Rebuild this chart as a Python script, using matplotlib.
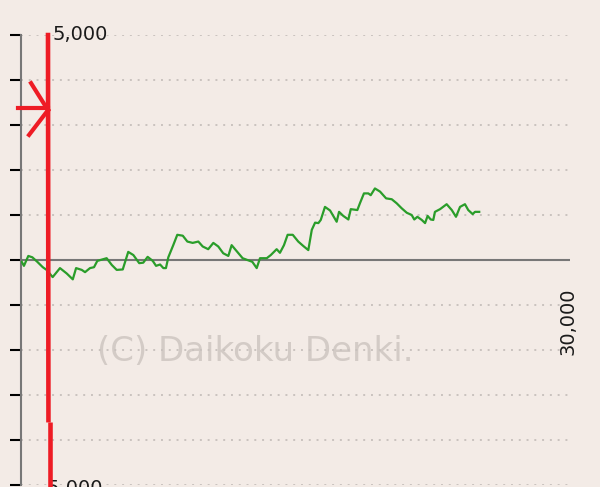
import matplotlib
matplotlib.use("Agg")
import matplotlib.pyplot as plt

# games played vs. coin difference
games = [40, 160, 400, 620, 890, 1190, 1400, 1730, 2130, 2500, 2830, 3010, 3320, 3500,
         3770, 3990, 4170, 4680, 4960, 5230, 5560, 5860, 6140, 6460, 6680, 6920, 7200,
         7380, 7600, 7780, 7920, 8050, 8320, 8540, 8840, 9090, 9380, 9690, 9930, 10230,
         10510, 10780, 11050, 11330, 11510, 11820, 12110, 12370, 12640, 12880, 13060,
         13430, 13650, 13970, 14150, 14370, 14570, 14850, 15150, 15430, 15700, 15890,
         16070, 16250, 16380, 16610, 16890, 17250, 17380, 17610, 17890, 18020, 18380,
         18520, 18740, 18980, 19110, 19340, 19620, 19950, 20260, 20530, 20800, 21080,
         21350, 21490, 21660, 21900, 22080, 22220, 22390, 22530, 22620, 22900, 23260,
         23540, 23770, 23990, 24260, 24440, 24680, 24810, 25040]
diff = [-40, -130, 90, 60, -40, -160, -220, -380, -180, -300, -430, -180, -220, -270,
        -180, -160, -20, 40, -110, -220, -210, 180, 110, -70, -60, 70, -20,
        -130, -100, -180, -180, 60, 330, 560, 540, 410, 380, 410, 300, 240,
        380, 300, 150, 90, 330, 180, 40, 0, -40, -180, 40,
        40, 110, 240, 160, 330, 560, 560, 410, 310, 220, 670,
        830, 820, 890, 1180, 1100, 850, 1070, 980, 900, 1130, 1110,
        1260, 1480, 1480, 1440, 1590, 1520, 1370, 1350, 1260, 1150, 1050,
        1000, 900, 960, 890, 820, 980, 900, 890, 1070, 1130, 1240,
        1110, 960, 1180, 1240, 1110, 1020, 1070, 1070]
y_ticks = list(range(-5000, 5001, 1000))

bg = "#f3ebe6"
fig = plt.figure(figsize=(6, 4.87), dpi=100, facecolor=bg)
ax = fig.add_axes([21/600, 2/487, 549/600, 450/487])
ax.set_facecolor(bg)
ax.set_xlim(0, 30000)
ax.set_ylim(-5000, 5000)

for v in y_ticks:
    if v == 0:
        ax.axhline(0, color="#777777", lw=1.5, zorder=2)
    else:
        ax.axhline(v, color="#c9c2be", lw=1.4, ls=(0, (1, 3)), zorder=1)

ax.plot(games, diff, color="#2a9d2a", lw=1.6, zorder=3)

for s in ["top", "right", "bottom"]:
    ax.spines[s].set_visible(False)
ax.spines["left"].set_color("#777777")
ax.spines["left"].set_linewidth(1.5)
ax.spines["left"].set_bounds(-5000, 5000)
ax.set_yticks(y_ticks)
ax.set_yticklabels([])
ax.set_xticks([])
ax.tick_params(axis="y", length=8, width=1.5, color="black", direction="out")

ax.text(1700, 5000, "5,000", fontsize=14, color="#1a1a1a", va="center", ha="left")
ax.text(1040, -5080, "-5,000", fontsize=14, color="#1a1a1a", va="center", ha="left", clip_on=False)
ax.text(29900, -1370, "30,000", fontsize=14, color="#1a1a1a", rotation=90, va="center", ha="center")
ax.text(12800, -2040, "(C) Daikoku Denki.", fontsize=24.5, color="#d3cbc6", ha="center", va="center", zorder=0)

# hand-drawn red marks
red = "#ee1c25"
ax.plot([1475, 1500], [5050, -3610], color=red, lw=3.3, clip_on=False, solid_capstyle="butt", zorder=5)
ax.plot([1600, 1600], [-3610, -5100], color=red, lw=3.3, clip_on=False, solid_capstyle="butt", zorder=5)
ax.plot([-160, 1475], [3380, 3380], color=red, lw=3.0, clip_on=False, zorder=5)
ax.plot([550, 1475], [3930, 3330], color=red, lw=3.0, clip_on=False, zorder=5)
ax.plot([440, 1475], [2780, 3330], color=red, lw=3.0, clip_on=False, zorder=5)

fig.savefig("out.png", dpi=100, facecolor=bg)
